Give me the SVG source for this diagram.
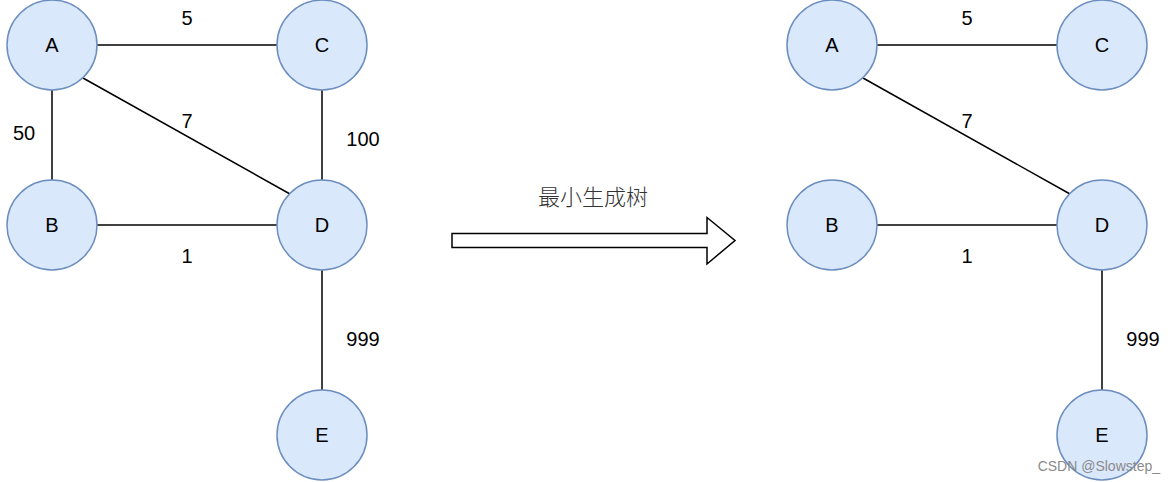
<svg xmlns="http://www.w3.org/2000/svg" width="1175" height="482" viewBox="0 0 1175 482">
<style>
.n{fill:#dae8fc;stroke:#6c8ebf;stroke-width:1.5}
.t{font-family:"Liberation Sans",Arial,sans-serif;font-size:20px;fill:#000;text-anchor:middle}
.e{stroke:#000;stroke-width:1.5;fill:none}
.cn{font-family:"Noto Sans CJK SC",sans-serif;font-size:22px;font-weight:300;fill:#333;text-anchor:middle}
.wm{font-family:"Liberation Sans",Arial,sans-serif;font-size:14px;fill:#8a8a8a;text-anchor:end}
</style>
<rect width="1175" height="482" fill="#fff"/>
<g id="edges">
<line class="e" x1="97" y1="45" x2="277" y2="45"/>
<line class="e" x1="52" y1="90" x2="52" y2="180"/>
<line class="e" x1="83" y1="78" x2="290" y2="194"/>
<line class="e" x1="322" y1="90" x2="322" y2="180"/>
<line class="e" x1="97" y1="225" x2="277" y2="225"/>
<line class="e" x1="322" y1="270" x2="322" y2="390"/>
<line class="e" x1="877" y1="45" x2="1057" y2="45"/>
<line class="e" x1="863" y1="78" x2="1070" y2="194"/>
<line class="e" x1="877" y1="225" x2="1057" y2="225"/>
<line class="e" x1="1102" y1="270" x2="1102" y2="390"/>
</g>
<g id="edge-labels">
<text class="t" x="187" y="25">5</text>
<text class="t" x="24" y="140">50</text>
<text class="t" x="187" y="128">7</text>
<text class="t" x="363" y="146">100</text>
<text class="t" x="187" y="263">1</text>
<text class="t" x="363" y="346">999</text>
<text class="t" x="967" y="25">5</text>
<text class="t" x="967" y="128">7</text>
<text class="t" x="967" y="263">1</text>
<text class="t" x="1143" y="346">999</text>
</g>
<g id="L-A"><circle class="n" cx="52" cy="45" r="45"/><text class="t" x="52" y="52">A</text></g>
<g id="L-C"><circle class="n" cx="322" cy="45" r="45"/><text class="t" x="322" y="52">C</text></g>
<g id="L-B"><circle class="n" cx="52" cy="225" r="45"/><text class="t" x="52" y="232">B</text></g>
<g id="L-D"><circle class="n" cx="322" cy="225" r="45"/><text class="t" x="322" y="232">D</text></g>
<g id="L-E"><circle class="n" cx="322" cy="435" r="45"/><text class="t" x="322" y="442">E</text></g>
<g id="R-A"><circle class="n" cx="832" cy="45" r="45"/><text class="t" x="832" y="52">A</text></g>
<g id="R-C"><circle class="n" cx="1102" cy="45" r="45"/><text class="t" x="1102" y="52">C</text></g>
<g id="R-B"><circle class="n" cx="832" cy="225" r="45"/><text class="t" x="832" y="232">B</text></g>
<g id="R-D"><circle class="n" cx="1102" cy="225" r="45"/><text class="t" x="1102" y="232">D</text></g>
<g id="R-E"><circle class="n" cx="1102" cy="435" r="45"/><text class="t" x="1102" y="442">E</text></g>
<g id="arrow">
<polygon points="452,233.5 707,233.5 707,217.5 735,240.5 707,264 707,247.5 452,247.5" fill="#fff" stroke="#000" stroke-width="1.5"/>
<text class="cn" x="593" y="205">最小生成树</text>
</g>
<text class="wm" x="1160" y="471">CSDN @Slowstep_</text>
</svg>
